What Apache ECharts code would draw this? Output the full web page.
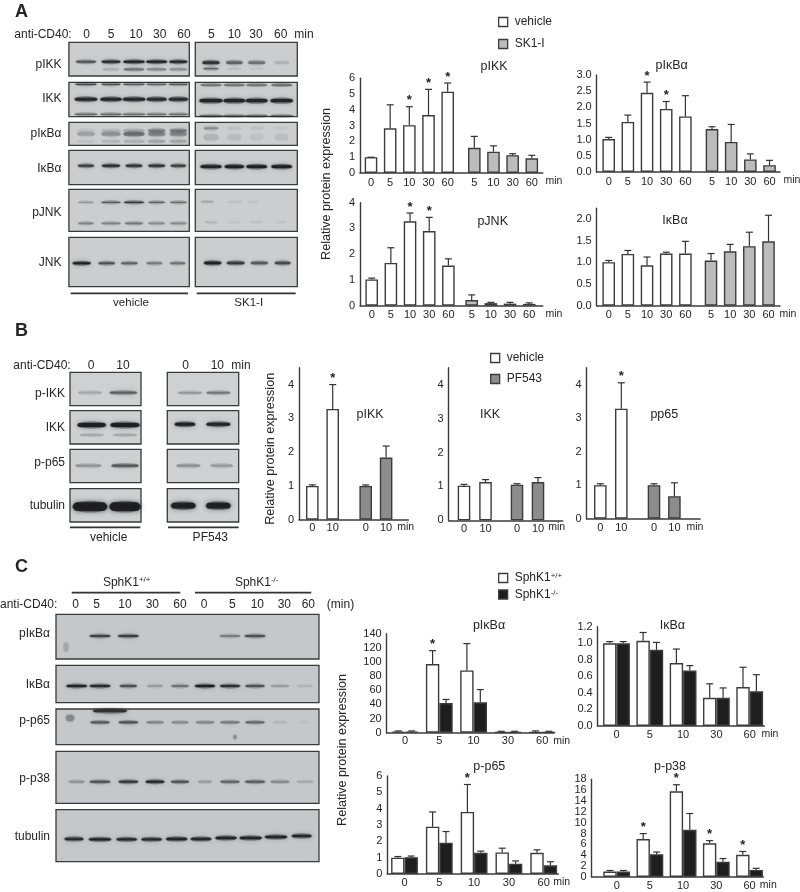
<!DOCTYPE html>
<html><head><meta charset="utf-8">
<style>html,body{margin:0;padding:0;background:#fff}#c{width:800px;height:892px;filter:blur(0.3px)}</style>
<script src="https://cdn.jsdelivr.net/npm/echarts@6/dist/echarts.min.js"></script>
</head><body><div id="c"></div>
<script>
// ---------- DATA ----------
const timesA = ['0','5','10','30','60'];
const timesA2 = ['5','10','30','60'];
const timesB = ['0','10'];

const aIKK_veh = [1,2.83,3.03,3.67,5.15], aIKK_vehTop = [1,4.32,4.2,5.3,5.7], aIKK_vehSig = [0,0,1,1,1];
const aIKK_sk = [1.6,1.35,1.13,0.93], aIKK_skTop = [2.32,1.72,1.22,1.12];
const aIkb_veh = [1.02,1.55,2.45,1.95,1.72], aIkb_vehTop = [1.07,1.76,2.78,2.18,2.36], aIkb_vehSig = [0,0,1,1,0];
const aIkb_sk = [1.33,0.93,0.39,0.21], aIkb_skTop = [1.4,1.47,0.56,0.36];
const aJNK_veh = [1.02,1.66,3.28,2.9,1.56], aJNK_vehTop = [1.07,2.25,3.6,3.43,1.82], aJNK_vehSig = [0,0,1,1,0];
const aJNK_sk = [0.22,0.1,0.08,0.07], aJNK_skTop = [0.42,0.13,0.13,0.11];
const aTot_veh = [1.0,1.19,0.93,1.2,1.2], aTot_vehTop = [1.04,1.27,1.12,1.23,1.48];
const aTot_sk = [1.04,1.25,1.37,1.48], aTot_skTop = [1.2,1.41,1.69,2.08];

const bIKK_veh = [1,3.28], bIKK_vehTop = [1.03,4.0], bIKK_vehSig = [0,1];
const bIKK_pf = [1,1.84], bIKK_pfTop = [1.03,2.18];
const bTot_veh = [1.02,1.13], bTot_vehTop = [1.06,1.2];
const bTot_pf = [1.05,1.13], bTot_pfTop = [1.08,1.26];
const b65_veh = [1,3.28], b65_vehTop = [1.04,4.05], b65_vehSig = [0,1];
const b65_pf = [1,0.67], b65_pfTop = [1.04,1.07];

const cIkb_wt = [1.5,97,88,1,1], cIkb_wtTop = [2.5,116,126,2,2.5], cIkb_wtSig = [0,1,0,0,0];
const cIkb_ko = [1.5,42,43,1,1], cIkb_koTop = [2.5,47,61,2,2];
const cTot_wt = [1,1.03,0.76,0.34,0.47], cTot_wtTop = [1.02,1.13,0.93,0.51,0.71];
const cTot_ko = [1,0.92,0.67,0.34,0.42], cTot_koTop = [1.02,1.01,0.73,0.46,0.62];
const c65_wt = [1,2.9,3.8,1.32,1.3], c65_wtTop = [1.07,3.8,5.48,1.58,1.48], c65_wtSig = [0,0,1,0,0];
const c65_ko = [1.03,1.92,1.3,0.63,0.53], c65_koTop = [1.1,2.6,1.4,0.8,0.75];
const c38_wt = [1,7,15.8,6.2,4.1], c38_wtTop = [1.2,8,17,6.7,4.7], c38_wtSig = [0,1,1,1,1];
const c38_ko = [1,4.2,8.7,2.8,1.3], c38_koTop = [1.2,4.6,11.7,3.4,1.6];

// ---------- STYLE / LAYOUT ----------
const FONT = '"Liberation Sans", Arial, sans-serif';
const INK = '#262626', EDGE = '#3c3c3c';
const FILL = {vehicle:'#ffffff','SK1-I':'#bcbcbc',PF543:'#8c8c8c','SphK1+/+':'#ffffff','SphK1-/-':'#1e1e1e'};

const grid=[], xAxis=[], yAxis=[], series=[], g=[];

function text(x,y,t,o){o=o||{};g.push({type:'text',x:x,y:y,z:20,style:Object.assign({text:t,fill:INK,
  font:(o.bold?'bold ':'')+(o.size||12)+'px '+FONT,align:o.align||'left',verticalAlign:'middle'},o.style||{})});}

// a bar-chart: "frame" grid holds the visible y axis and baseline, inner grids hold the bars
function chart(L,groups){
  let gi=grid.length;
  grid.push({left:L.ax,width:L.end-L.ax,top:L.yTop,height:L.y0-L.yTop});
  xAxis.push({gridIndex:gi,type:'category',data:[''],axisLabel:{show:false},axisTick:{show:false},
    axisLine:{show:true,onZero:false,lineStyle:{color:EDGE,width:1.6}}});
  let ylabel={fontFamily:FONT,fontSize:L.fs||11,color:INK,margin:5,formatter:L.fmt,hideOverlap:false};
  if(L.custom) ylabel.customValues=L.custom;
  let ytick={length:3.5,lineStyle:{color:EDGE,width:1.1},alignWithLabel:true};
  if(L.custom) ytick.customValues=L.custom;
  yAxis.push({gridIndex:gi,type:'value',min:0,max:L.vmax,interval:L.interval,splitLine:{show:false},
    axisLine:{show:true,lineStyle:{color:EDGE,width:1.4}},axisTick:ytick,axisLabel:ylabel});
  series.push({type:'bar',xAxisIndex:xAxis.length-1,yAxisIndex:yAxis.length-1,data:[],silent:true});
  groups.forEach(function(G){
    let i=grid.length;
    grid.push({left:G.c0-G.step/2,width:G.step*G.cats.length,top:L.yTop,height:L.y0-L.yTop});
    xAxis.push({gridIndex:i,type:'category',data:G.cats,axisLine:{show:false},axisTick:{show:false},
      axisLabel:{fontFamily:FONT,fontSize:L.fs||11,color:INK,margin:L.lm||4,interval:0}});
    yAxis.push({gridIndex:i,type:'value',min:0,max:L.vmax,show:false});
    let bw=G.bw||12.6, n=G.sets.length;
    G.sets.forEach(function(S,k){
      series.push({type:'bar',name:S.name,xAxisIndex:i,yAxisIndex:i,data:S.v,barWidth:bw,barGap:'0%',
        itemStyle:{color:FILL[S.name],borderColor:EDGE,borderWidth:1.4},silent:true,z:3});
      let off=n>1?(k-(n-1)/2)*bw:0;
      series.push({type:'custom',xAxisIndex:i,yAxisIndex:i,z:4,silent:true,clip:false,
        encode:{x:0,y:1},
        data:S.v.map(function(v,j){return [j,S.top[j],v,S.sig?S.sig[j]:0];}),
        renderItem:function(p,api){
          let a=api.coord([api.value(0),api.value(1)]), b=api.coord([api.value(0),api.value(2)]);
          let x=a[0]+off, st={stroke:'#333',lineWidth:1.2,fill:null}, kids=[
            {type:'line',shape:{x1:x,y1:a[1],x2:x,y2:b[1]},style:st},
            {type:'line',shape:{x1:x-3.5,y1:a[1],x2:x+3.5,y2:a[1]},style:st}];
          if(api.value(3)) kids.push({type:'text',x:x,y:a[1]-6,style:{text:'*',fill:'#222',
            font:'bold 13px '+FONT,align:'center',verticalAlign:'middle'}});
          return {type:'group',children:kids};
        }});
    });
  });
  if(L.title) text(L.tx,L.ty,L.title,{align:'center',size:12.5});
  text(L.mx,L.my,'min',{size:10.5,align:'center'});
}
const s1=function(n){return n.toFixed(1);};
const whole=function(n){return n%1===0?String(n):'';};

// Panel A
const A1=19.17;
chart({ax:360,end:542.7,y0:173,yTop:78.3,vmax:6,interval:1,title:'pIKK',tx:494,ty:67,mx:554,my:181},[
 {c0:371,step:A1,cats:timesA,sets:[{name:'vehicle',v:aIKK_veh,top:aIKK_vehTop,sig:aIKK_vehSig}]},
 {c0:474.3,step:A1,cats:timesA2,sets:[{name:'SK1-I',v:aIKK_sk,top:aIKK_skTop}]}]);
chart({ax:596.7,end:780,y0:172,yTop:75,vmax:3,interval:0.5,fmt:s1,title:'pI\u03baB\u03b1',tx:671.7,ty:66,mx:792,my:180},[
 {c0:608.7,step:A1,cats:timesA,sets:[{name:'vehicle',v:aIkb_veh,top:aIkb_vehTop,sig:aIkb_vehSig}]},
 {c0:712,step:A1,cats:timesA2,sets:[{name:'SK1-I',v:aIkb_sk,top:aIkb_skTop}]}]);
chart({ax:360,end:542.7,y0:305.7,yTop:202.7,vmax:4,interval:1,title:'pJNK',tx:492.7,ty:221.7,mx:554,my:314},[
 {c0:371.7,step:A1,cats:timesA,sets:[{name:'vehicle',v:aJNK_veh,top:aJNK_vehTop,sig:aJNK_vehSig}]},
 {c0:471.7,step:A1,cats:timesA2,sets:[{name:'SK1-I',v:aJNK_sk,top:aJNK_skTop}]}]);
chart({ax:596.7,end:780,y0:305.7,yTop:208.3,vmax:2.24,interval:0.5,custom:[0,0.5,1,1.5,2],fmt:s1,title:'I\u03baB\u03b1',tx:675,ty:221,mx:788,my:314},[
 {c0:608.7,step:A1,cats:timesA,sets:[{name:'vehicle',v:aTot_veh,top:aTot_vehTop}]},
 {c0:711,step:A1,cats:timesA2,sets:[{name:'SK1-I',v:aTot_sk,top:aTot_skTop}]}]);

// Panel B
chart({ax:299,end:408.3,y0:519.7,yTop:367.7,vmax:4.5,interval:0.5,fmt:whole,title:'pIKK',tx:370,ty:415,mx:405.7,my:527.5,lm:3},[
 {c0:312.3,step:20.4,cats:timesB,sets:[{name:'vehicle',v:bIKK_veh,top:bIKK_vehTop,sig:bIKK_vehSig}]},
 {c0:365.7,step:20.4,cats:timesB,sets:[{name:'PF543',v:bIKK_pf,top:bIKK_pfTop}]}]);
chart({ax:448.7,end:562.7,y0:520.3,yTop:367.7,vmax:4.5,interval:0.5,fmt:whole,title:'IKK',tx:490,ty:415,mx:556.7,my:527.5,lm:3},[
 {c0:464,step:21.5,cats:timesB,sets:[{name:'vehicle',v:bTot_veh,top:bTot_vehTop}]},
 {c0:517,step:21,cats:timesB,sets:[{name:'PF543',v:bTot_pf,top:bTot_pfTop}]}]);
chart({ax:586.7,end:700,y0:518.7,yTop:367.7,vmax:4.5,interval:0.5,fmt:whole,title:'pp65',tx:664.3,ty:415,mx:695,my:527.5,lm:4},[
 {c0:600.3,step:21,cats:timesB,sets:[{name:'vehicle',v:b65_veh,top:b65_vehTop,sig:b65_vehSig}]},
 {c0:654,step:20.4,cats:timesB,sets:[{name:'PF543',v:b65_pf,top:b65_pfTop}]}]);

// Panel C
chart({ax:386.7,end:554,y0:732.7,yTop:633.7,vmax:140,interval:20,title:'pI\u03baB\u03b1',tx:489,ty:626,mx:561.7,my:741,lm:3},[
 {c0:405,step:34.3,bw:13.4,cats:timesA,sets:[{name:'SphK1+/+',v:cIkb_wt,top:cIkb_wtTop,sig:cIkb_wtSig},{name:'SphK1-/-',v:cIkb_ko,top:cIkb_koTop}]}]);
chart({ax:597.7,end:764.3,y0:726,yTop:626.7,vmax:1.2,interval:0.2,fmt:s1,title:'I\u03baB\u03b1',tx:672.3,ty:625.5,mx:770,my:733.7,lm:3},[
 {c0:616.5,step:33.3,bw:13.4,cats:timesA,sets:[{name:'SphK1+/+',v:cTot_wt,top:cTot_wtTop},{name:'SphK1-/-',v:cTot_ko,top:cTot_koTop}]}]);
chart({ax:387.3,end:558.3,y0:874,yTop:776,vmax:6,interval:1,title:'p-p65',tx:489.3,ty:767,mx:561.7,my:882,lm:3},[
 {c0:404.5,step:34.8,bw:13.4,cats:timesA,sets:[{name:'SphK1+/+',v:c65_wt,top:c65_wtTop,sig:c65_wtSig},{name:'SphK1-/-',v:c65_ko,top:c65_koTop}]}]);
chart({ax:591.7,end:763.3,y0:877,yTop:779.3,vmax:18,interval:2,title:'p-p38',tx:670,ty:767,mx:768.3,my:885,lm:3},[
 {c0:616.7,step:33.2,bw:13.4,cats:timesA,sets:[{name:'SphK1+/+',v:c38_wt,top:c38_wtTop,sig:c38_wtSig},{name:'SphK1-/-',v:c38_ko,top:c38_koTop}]}]);

// Y titles and panel letters
[[327,184],[270.7,448.8],[343,750]].forEach(function(p){
  g.push({type:'text',x:p[0],y:p[1],rotation:Math.PI/2,z:20,style:{text:'Relative protein expression',fill:INK,font:'12.6px '+FONT,align:'center',verticalAlign:'middle'}});
});
text(15,12,'A',{bold:true,size:18}); text(15,331,'B',{bold:true,size:18}); text(15,567,'C',{bold:true,size:18});

// ---------- BLOT PANELS (picture regions, not chart data) ----------
function panel(x,y,x2,y2,fill){g.push({type:'rect',z:5,shape:{x:x,y:y,width:x2-x,height:y2-y},
  style:{fill:fill,stroke:'#3a3a3a',lineWidth:1.3}});}
function band(x,y,w,h,a,b){ if(a<=0)return;
  let blur=b===undefined?2.5:b, ink=function(k){return 'rgba(18,18,22,'+(a*k).toFixed(3)+')';};
  // soft halo, then a dark core that tapers toward the lane edges
  g.push({type:'ellipse',z:6,shape:{cx:x,cy:y,rx:w/2+1,ry:h/2+1.5},style:{fill:ink(.4),shadowBlur:blur+3,shadowColor:ink(.4)}});
  g.push({type:'rect',z:6,shape:{x:x-w/2,y:y-h/2,width:w,height:h,r:h/2},style:{fill:ink(.8),shadowBlur:blur,shadowColor:ink(.6)}});
}
function row(oy,zy,xs,al,zw,zh,b){xs.forEach(function(zx,i){
  band(zx/3,oy+(Array.isArray(zy)?zy[i]:zy)/3,(Array.isArray(zw)?zw[i]:zw)/3,zh/3,al[i],b);});}
function hline(x,x2,y){g.push({type:'line',z:6,shape:{x1:x,y1:y,x2:x2,y2:y},style:{stroke:'#333',lineWidth:1.8}});}

// --- A ---
const A_BG='#cbcdcf', L5=[258,333,402,470,535], R4=[633,703,770,845];
[[42.3,76],[82.3,116.7],[122.3,145.3],[150.3,184.7],[189.3,231.3],[237.3,286.7]].forEach(function(r,i){
  panel(68.9,r[0],189.3,r[1],A_BG); panel(195.3,r[0],297.3,r[1],A_BG);});
row(0,185,L5,[.6,.9,1,1,.95],[58,54,62,60,52],6);
row(0,208,L5,[0,.15,.45,.35,.3],[58,50,60,58,52],5);
row(0,188,R4,[.8,.5,.42,.12],[50,48,50,44],8);
row(0,206,R4,[.5,.08,.05,0],[44,40,40,40],4);
row(0,253,L5,[.65,.6,.55,.5,.55],[62,55,62,58,55],3.5,1.5);
row(0,298,L5,[.9,.9,.9,.85,.85],[66,62,66,58,56],9);
row(0,343,L5,[.55,.55,.5,.5,.5],[66,62,66,58,56],3,1.5);
row(0,255,R4,[.55,.55,.55,.6],[60,60,60,60],3.5,1.5);
row(0,302,R4,[.92,.92,.92,.92],[68,64,64,66],10);
row(0,347,R4,[.5,.5,.5,.5],[68,64,64,66],3,1.5);
row(0,402,L5,[.2,.28,.45,.35,.33],[52,56,62,50,50],11,5);
row(0,392,L5,[.06,.1,.15,.35,.38],[52,56,62,50,50],8,4);
row(0,424,L5,[.05,.1,.13,.18,.18],[52,56,62,50,50],8,5);
row(0,385,R4,[.3,.07,.07,.04],[42,40,40,40],6,3);
row(0,412,R4,[.12,.08,.05,.07],[44,40,40,40],18,5);
row(0,497,L5,[.75,.9,.85,.85,.75],[46,52,48,48,44],6);
row(0,500,R4,[.95,1,1,1],[62,56,60,60],8);
row(0,607,L5,[.25,.55,.8,.5,.45],[44,56,58,48,48],4);
row(0,670,L5,[.35,.35,.4,.3,.3],[44,56,52,48,48],5);
row(0,605,[622,705,760],[.22,.08,.05],[36,40,30],3,1.5);
row(0,667,R4,[.12,.05,.06,.05],[36,40,36,30],4);
row(0,790,[245,320,388,463,533],[1,.6,.5,.38,.42],[52,48,48,46,44],6);
row(0,789,[638,707,778,848],[1,.75,.55,.65],[50,52,50,46],7);
hline(70.7,188,293.3); hline(196.7,295.7,293.3);
text(131,303,'vehicle',{align:'center',size:11.5}); text(248.7,303,'SK1-I',{align:'center',size:11.5});
text(14.3,34.7,'anti-CD40:');
[[260,'0'],[333,'5'],[408,'10'],[479,'30'],[552,'60'],[634,'5'],[703,'10'],[768,'30'],[842,'60'],[912,'min']].forEach(function(t){
  text(t[0]/3,34.7,t[1],{align:'center'});});
[['pIKK',64.3],['IKK',99],['pI\u03baB\u03b1',134],['I\u03baB\u03b1',169],['pJNK',213],['JNK',263]].forEach(function(t){
  text(61.5,t[1],t[0],{align:'right'});});

// --- B ---
const B_BG='#cfd0d1';
[[372.3,405.7],[410.7,444],[449.3,482.7],[488.7,522]].forEach(function(r){
  panel(70,r[0],141,r[1],B_BG); panel(167.3,r[0],238.7,r[1],B_BG);});
const OB=340;
row(OB,158,[270,370],[.18,.55],[70,80],7,4);
row(OB,158,[570,655],[.25,.42],[70,70],6,3);
row(OB,255,[275,375],[1,1],[84,86],12,3);
row(OB,285,[275,375],[.25,.25],[70,70],3,1.5);
row(OB,253,[555,655],[1,.95],[60,70],9,3);
row(OB,377,[265,375],[.28,.6],[76,80],7,3);
row(OB,377,[565,665],[.3,.25],[70,66],7,4);
row(OB,500,[270,375],[1,1],[102,92],26,4);
row(OB,497,[550,655],[1,1],[72,72],17,4);
hline(70,140.3,527.3); hline(168,238.7,527.3);
text(108.7,537.5,'vehicle',{align:'center'}); text(210.3,537.5,'PF543',{align:'center'});
text(13.3,365.7,'anti-CD40:');
[[273,'0'],[369,'10'],[557,'0'],[652,'10'],[723,'min']].forEach(function(t){text(t[0]/3,365.7,t[1],{align:'center'});});
[['p-IKK',393.3],['IKK',427.3],['p-p65',462.7],['tubulin',505.7]].forEach(function(t){text(65,t[1],t[0],{align:'right'});});

// --- C ---
const C_BG='#c5c8ca', OC=550, L10=[230,300,385,465,540,615,690,765,840,915];
[[614.3,659],[665.3,702.7],[709,744.7],[751.3,803.3],[809.7,861.7]].forEach(function(r){panel(56,r[0],319,r[1],C_BG);});
row(OC,258,L10,[0,.7,.72,0,0,0,.35,.6,0,0],60,6);
row(OC,408,L10,[.95,.9,.6,.2,.4,1,.85,.6,.2,.1],[60,60,50,46,50,58,58,56,54,46],6);
row(OC,517,L10,[0,.6,.65,.35,.3,.35,.4,.5,.1,.03],[50,56,56,50,50,54,56,56,40,30],5);
row(OC,483,[330],[.85],[100],8,4);
band(70,718,8,6,.3,5); band(235,737,3,4,.28,3);
band(66,647,5,9,.15,4);
row(OC,695,L10,[.25,.6,.8,.95,.6,.2,.5,.55,.3,.15],[46,60,56,54,52,40,56,58,54,48],6);
row(OC,[867,868,868,868,867,867,864,864,861,858],[222,300,380,455,530,603,678,752,828,905],[.85,.95,.9,.9,.95,.9,.95,.95,.95,.9],[55,65,60,60,62,60,62,65,65,58],7);
hline(71.7,180.3,592.7); hline(195,311.3,592.7);
const supRich={a:{fontFamily:FONT,fontSize:12,fill:INK,color:INK},s:{fontFamily:FONT,fontSize:8,verticalAlign:'top',color:INK,fill:INK,padding:[0,0,5,0]}};
g.push({type:'text',x:126.7,y:582.3,z:20,style:{text:'{a|SphK1}{s|+/+}',rich:supRich,align:'center',verticalAlign:'middle'}});
g.push({type:'text',x:256.7,y:582.3,z:20,style:{text:'{a|SphK1}{s|-/-}',rich:supRich,align:'center',verticalAlign:'middle'}});
text(0,605,'anti-CD40:');
[[227,'0'],[290,'5'],[375,'10'],[457,'30'],[540,'60'],[612,'0'],[697,'5'],[772,'10'],[853,'30'],[925,'60']].forEach(function(t){text(t[0]/3,605,t[1],{align:'center'});});
text(340.5,605,'(min)',{align:'center'});
[['pI\u03baB\u03b1',633.3],['I\u03baB\u03b1',684.3],['p-p65',721],['p-p38',778.3],['tubulin',836.7]].forEach(function(t){text(50,t[1],t[0],{align:'right'});});

// ---------- LEGENDS ----------
function legend(x,y,names,gap,fmt){
  let o={orient:'vertical',left:x,top:y,itemWidth:9,itemHeight:9,itemGap:gap,selectedMode:false,padding:0,
    data:names,icon:'rect',itemStyle:{borderColor:EDGE,borderWidth:1.3},
    textStyle:{fontFamily:FONT,fontSize:12,color:INK,padding:[0,0,0,2]}};
  if(fmt){o.formatter=fmt;o.textStyle.rich={a:{fontFamily:FONT,fontSize:12,color:INK},
    s:{fontFamily:FONT,fontSize:8,color:INK,verticalAlign:'top',padding:[0,0,4,0]}};}
  return o;
}
const legends=[legend(498,16,['vehicle','SK1-I'],10),legend(490,352,['vehicle','PF543'],9),
 legend(498,572,['SphK1+/+','SphK1-/-'],4.5,function(n){return '{a|SphK1}{s|'+n.slice(5)+'}';})];

echarts.init(document.getElementById('c'),null,{renderer:'canvas'}).setOption({
  animation:false,backgroundColor:'#fff',grid:grid,xAxis:xAxis,yAxis:yAxis,series:series,legend:legends,
  graphic:{elements:g}});
</script></body></html>
